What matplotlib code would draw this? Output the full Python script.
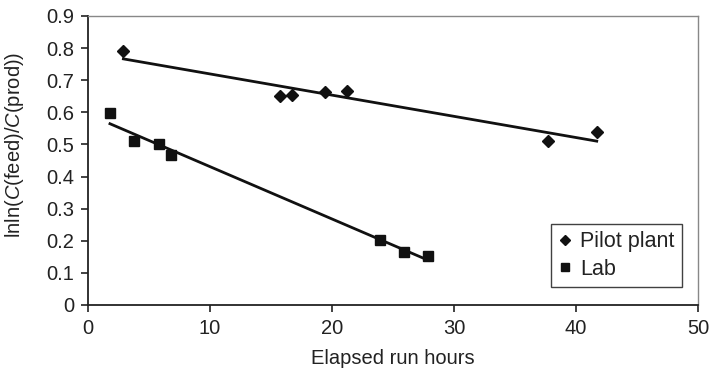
import numpy as np
import matplotlib as mpl
mpl.use('Agg')
import matplotlib.pyplot as plt
from matplotlib.lines import Line2D

mpl.rcParams['font.family'] = ['Liberation Sans', 'DejaVu Sans']
mpl.rcParams['mathtext.fontset'] = 'custom'
mpl.rcParams['mathtext.rm'] = 'Liberation Sans'
mpl.rcParams['mathtext.it'] = 'Liberation Sans:italic'

pilot_hours = [2.9, 15.7, 16.7, 19.4, 21.2, 37.7, 41.7]
pilot_vals = [0.790, 0.650, 0.654, 0.663, 0.667, 0.510, 0.540]
lab_hours = [1.8, 3.8, 5.8, 6.8, 23.9, 25.9, 27.9]
lab_vals = [0.598, 0.510, 0.500, 0.467, 0.202, 0.165, 0.152]

fig = plt.figure(figsize=(7.11, 3.73), dpi=100)
ax = fig.add_axes([88 / 711, 1 - 305 / 373, 610 / 711, 289 / 373])

text_color = '#222222'
fs = 14.5
for xs, ys, mk, ms in ((pilot_hours, pilot_vals, 'D', 6.5), (lab_hours, lab_vals, 's', 7.5)):
    ax.plot(xs, ys, linestyle='none', marker=mk, markersize=ms, color='#111111')
    slope, icpt = np.polyfit(xs, ys, 1)
    fx = np.array([min(xs), max(xs)])
    ax.plot(fx, slope * fx + icpt, color='#111111', linewidth=2)

ax.set_xlim(0, 50)
ax.set_ylim(0, 0.9)
ax.set_xticks(range(0, 51, 10))
ax.set_yticks(np.arange(0, 0.91, 0.1))
ax.set_yticklabels(['0'] + ['%.1f' % v for v in np.arange(0.1, 0.91, 0.1)])

for side in ('top', 'right'):
    ax.spines[side].set_color('#888888')
    ax.spines[side].set_linewidth(1)
for side in ('left', 'bottom'):
    ax.spines[side].set_color('#222222')
    ax.spines[side].set_linewidth(1.3)
ax.tick_params(direction='out', length=5, width=1.2, labelsize=fs, colors='#222222', pad=5)

ax.set_xlabel('Elapsed run hours', fontsize=fs, color=text_color, labelpad=8)
ax.set_ylabel(r'lnln($\mathit{C}$(feed)/$\mathit{C}$(prod))', fontsize=fs, color=text_color)
ax.yaxis.set_label_coords(-0.102, 0.554)

handles = [Line2D([], [], linestyle='none', marker='D', markersize=5, color='#111111'),
           Line2D([], [], linestyle='none', marker='s', markersize=6, color='#111111')]
leg = ax.legend(handles, ['Pilot plant', 'Lab'], loc='lower right', fontsize=15.5,
                bbox_to_anchor=(0.974, 0.062), frameon=True, fancybox=False,
                handlelength=0.6, handletextpad=0.4, borderpad=0.35, labelspacing=0.3,
                borderaxespad=0)
leg.get_frame().set_edgecolor('#111111')
leg.get_frame().set_linewidth(1)
for t in leg.get_texts():
    t.set_color(text_color)

fig.savefig('out.png', dpi=100)
